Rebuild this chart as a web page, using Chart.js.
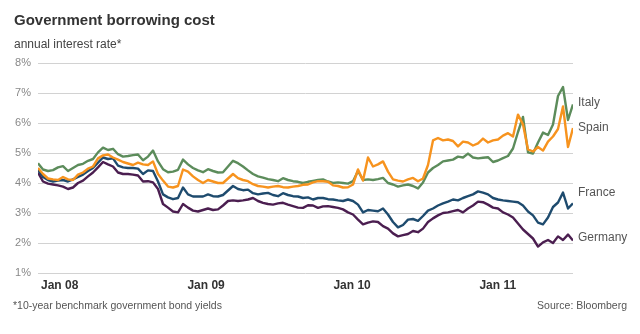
<!DOCTYPE html>
<html>
<head>
<meta charset="utf-8">
<title>Government borrowing cost</title>
<script src="https://cdn.jsdelivr.net/npm/chart.js@4"></script>
<style>
    html, body { margin: 0; padding: 0; background: #fff; }
    #wrap { position: relative; width: 640px; height: 334px; font-family: "Liberation Sans", Arial, sans-serif; }
    #chart { position: absolute; left: 0; top: 0; }
    .txt { position: absolute; white-space: nowrap; }
    #title { left: 14px; top: 12px; font-size: 15px; line-height: 15px; font-weight: bold; color: #333; }
    #subtitle { left: 14px; top: 38px; font-size: 12px; line-height: 12px; color: #444; }
    #note { left: 13px; top: 300px; font-size: 10.5px; line-height: 11px; color: #555; }
    #source { right: 13px; top: 300px; font-size: 10.5px; line-height: 11px; color: #555; }
</style>
</head>
<body>
<div id="wrap">
    <canvas id="chart" width="640" height="334"></canvas>
    <div class="txt" id="title">Government borrowing cost</div>
    <div class="txt" id="subtitle">annual interest rate*</div>
    <div class="txt" id="note">*10-year benchmark government bond yields</div>
    <div class="txt" id="source">Source: Bloomberg</div>
</div>
<script>
// sampling: days counted from 1 Jan 2008, one value every 12.5 days
const firstDay = -7.5;
const stepDays = 12.5;

const countries = ["Italy", "Spain", "France", "Germany"];
const colors = ["#5c8c5b", "#f7931e", "#1e4b6e", "#4b1e50"];

// tick positions (day of each 1 January) and their labels
const yearStarts = [0, 366, 731, 1096];
const yearLabels = ["Jan 08", "Jan 09", "Jan 10", "Jan 11"];

// yields in %, read every 12.5 days
const italy = [
    4.66, 4.45, 4.40, 4.43, 4.52, 4.56, 4.40, 4.50, 4.60, 4.64,
    4.74, 4.80, 5.02, 5.18, 5.10, 5.14, 4.96, 4.88, 4.90, 4.93,
    4.95, 4.76, 4.88, 5.08, 4.72, 4.46, 4.36, 4.38, 4.44, 4.78,
    4.62, 4.50, 4.42, 4.36, 4.46, 4.40, 4.35, 4.36, 4.55, 4.74,
    4.66, 4.55, 4.42, 4.30, 4.22, 4.18, 4.13, 4.10, 4.06, 4.16,
    4.10, 4.06, 4.04, 4.00, 4.04, 4.07, 4.10, 4.12, 4.05, 4.00,
    4.02, 4.00, 3.98, 4.06, 4.40, 4.10, 4.12, 4.10, 4.13, 4.17,
    4.00, 3.95, 3.88, 3.92, 3.95, 3.90, 3.82, 4.02, 4.35, 4.50,
    4.60, 4.72, 4.75, 4.78, 4.88, 4.85, 4.98, 4.85, 4.82, 4.84,
    4.86, 4.70, 4.75, 4.83, 4.90, 5.15, 5.70, 6.20, 5.02, 4.98,
    5.35, 5.68, 5.60, 5.95, 6.90, 7.20, 6.10, 6.62
];
const spain = [
    4.50, 4.30, 4.15, 4.12, 4.10, 4.20, 4.12, 4.10, 4.28, 4.35,
    4.48, 4.55, 4.82, 4.92, 4.95, 4.85, 4.78, 4.70, 4.65, 4.60,
    4.68, 4.62, 4.60, 4.72, 4.30, 4.08, 3.88, 3.85, 3.90, 4.45,
    4.38, 4.22, 4.10, 4.00, 4.10, 4.05, 4.00, 4.00, 4.15, 4.30,
    4.16, 4.10, 4.06, 3.96, 3.90, 3.88, 3.85, 3.88, 3.90, 3.86,
    3.85, 3.88, 3.90, 3.94, 3.95, 4.02, 4.06, 4.06, 4.04, 3.92,
    3.90, 3.85, 3.86, 3.95, 4.45, 4.08, 4.85, 4.55, 4.62, 4.72,
    4.38, 4.12, 4.08, 4.05, 4.12, 4.17, 4.06, 4.15, 4.60, 5.42,
    5.50, 5.42, 5.45, 5.40, 5.22, 5.38, 5.35, 5.25, 5.32, 5.48,
    5.35, 5.42, 5.45, 5.58, 5.66, 5.55, 6.28, 5.95, 5.12, 5.05,
    5.20, 5.08, 5.38, 5.55, 5.80, 6.55, 5.20, 5.83
];
const france = [
    4.45, 4.20, 4.10, 4.05, 4.08, 4.10, 4.05, 4.12, 4.20, 4.28,
    4.40, 4.50, 4.68, 4.85, 4.80, 4.82, 4.58, 4.52, 4.50, 4.50,
    4.48, 4.30, 4.42, 4.40, 4.05, 3.62, 3.52, 3.46, 3.50, 3.85,
    3.62, 3.55, 3.55, 3.55, 3.62, 3.56, 3.55, 3.60, 3.75, 3.90,
    3.80, 3.76, 3.78, 3.66, 3.62, 3.65, 3.67, 3.60, 3.56, 3.66,
    3.60, 3.56, 3.55, 3.50, 3.52, 3.45, 3.50, 3.50, 3.46, 3.45,
    3.42, 3.40, 3.45, 3.40, 3.28, 3.02, 3.10, 3.08, 3.06, 3.15,
    2.95, 2.70, 2.52, 2.60, 2.78, 2.80, 2.74, 2.90, 3.08, 3.15,
    3.25, 3.32, 3.38, 3.45, 3.42, 3.50, 3.56, 3.62, 3.72, 3.68,
    3.62, 3.50, 3.45, 3.42, 3.40, 3.38, 3.36, 3.25, 3.05, 2.92,
    2.68, 2.62, 2.85, 3.20, 3.35, 3.68, 3.15, 3.32
];
const germany = [
    4.35, 4.05, 3.98, 3.95, 3.92, 3.88, 3.80, 3.85, 4.00, 4.08,
    4.22, 4.35, 4.52, 4.70, 4.62, 4.55, 4.35, 4.30, 4.30, 4.28,
    4.25, 4.05, 4.06, 4.02, 3.80, 3.30, 3.18, 3.05, 3.02, 3.30,
    3.18, 3.08, 3.05, 3.10, 3.15, 3.10, 3.12, 3.25, 3.40, 3.42,
    3.40, 3.42, 3.45, 3.50, 3.40, 3.34, 3.30, 3.28, 3.32, 3.34,
    3.28, 3.23, 3.18, 3.17, 3.26, 3.25, 3.17, 3.22, 3.23, 3.20,
    3.17, 3.12, 3.02, 2.95, 2.78, 2.62, 2.68, 2.72, 2.70, 2.56,
    2.48, 2.32, 2.22, 2.26, 2.30, 2.40, 2.36, 2.48, 2.70, 2.82,
    2.92, 3.00, 3.02, 3.06, 3.10, 3.02, 3.15, 3.25, 3.38, 3.36,
    3.28, 3.18, 3.15, 3.02, 2.95, 2.85, 2.65, 2.45, 2.30, 2.15,
    1.88, 2.02, 2.10, 2.00, 2.22, 2.10, 2.28, 2.08
];
const series = [italy, spain, france, germany];

// rate level (in %) at which each country's name sits, right of the lines
const labelLevels = [6.67, 5.84, 3.69, 2.19];

const days = italy.map((_, i) => firstDay + i * stepDays);

// draw Spain over Italy, and the two upper lines over the lower ones
const drawOrder = [2, 1, 3, 4];

const datasets = countries.map((name, k) => ({
    label: name,
    data: series[k].map((v, i) => ({ x: days[i], y: v })),
    borderColor: colors[k],
    borderWidth: 2.4,
    borderJoinStyle: "round",
    pointRadius: 0,
    tension: 0,
    fill: false,
    order: drawOrder[k]
}));

// country names at the right end of the plot
const endLabels = {
    id: "endLabels",
    afterDatasetsDraw(chart) {
        const { ctx, chartArea, scales } = chart;
        ctx.save();
        ctx.font = '12px "Liberation Sans", Arial, sans-serif';
        ctx.fillStyle = "#555";
        ctx.textAlign = "left";
        ctx.textBaseline = "middle";
        countries.forEach((name, k) => {
            ctx.fillText(name, chartArea.right + 5, scales.y.getPixelForValue(labelLevels[k]));
        });
        ctx.restore();
    }
};

Chart.defaults.font.family = '"Liberation Sans", Arial, sans-serif';

new Chart(document.getElementById("chart"), {
    type: "line",
    data: { datasets },
    plugins: [endLabels],
    options: {
        responsive: false,
        animation: false,
        devicePixelRatio: 1,
        layout: { padding: { top: 63, right: 67, bottom: 35, left: 0 } },
        plugins: {
            legend: { display: false },
            tooltip: { enabled: false }
        },
        scales: {
            x: {
                type: "linear",
                min: days[0],
                max: days[days.length - 1],
                grid: { display: false, drawTicks: false },
                border: { display: false },
                afterBuildTicks: (scale) => {
                    scale.ticks = yearStarts.map(v => ({ value: v }));
                },
                afterFit: (scale) => { scale.height = 26; },
                ticks: {
                    align: "start",
                    padding: 5,
                    autoSkip: false,
                    maxRotation: 0,
                    color: "#333",
                    font: { size: 12, weight: "bold" },
                    callback: (v, i) => yearLabels[i]
                }
            },
            y: {
                min: 1,
                max: 8,
                grid: { color: "#d2d2d2", lineWidth: 1, drawTicks: false },
                border: { display: false },
                afterFit: (scale) => { scale.width = 38; },
                ticks: {
                    stepSize: 1,
                    padding: 7,
                    color: "#888",
                    font: { size: 11 },
                    callback: (v) => v + "%"
                }
            }
        }
    }
});
</script>
</body>
</html>
